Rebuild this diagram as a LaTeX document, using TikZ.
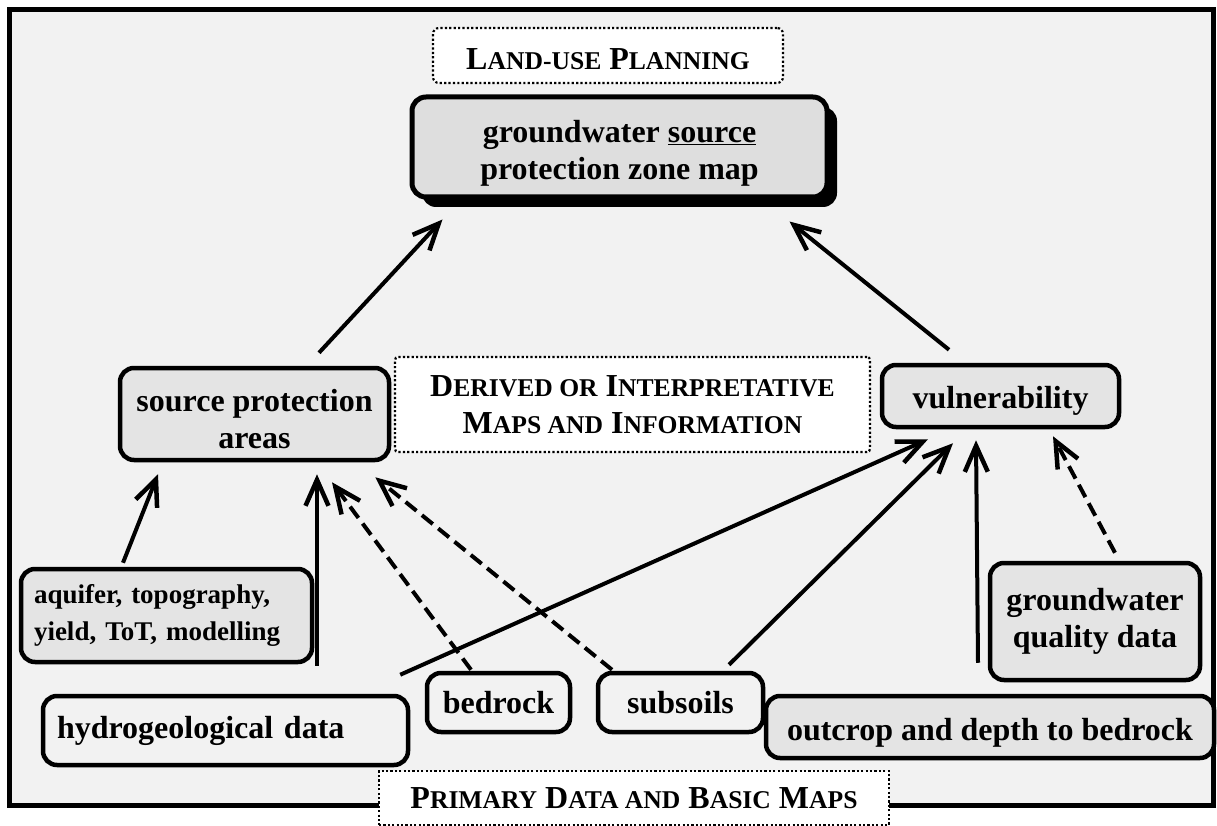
\documentclass[tikz,border=0pt]{standalone}
\usepackage{fontspec}
\setmainfont{Liberation Serif}
\usetikzlibrary{arrows.meta,calc,shadows}
\definecolor{bgc}{RGB}{242,242,242}
\definecolor{boxc}{RGB}{228,228,228}
\definecolor{mainc}{RGB}{222,222,222}
\newcommand\smc[1]{{\fontsize{25.6}{37}\selectfont #1}}
\newcommand\lift[1]{\rule{0pt}{#1pt}}
\begin{document}
\begin{tikzpicture}[x=1pt,y=-1pt,
 every node/.style={font=\bfseries\fontsize{32}{37}\selectfont, inner sep=0pt},
 gbox/.style={draw, line width=4.5pt, rounded corners=14pt, fill=boxc},
 wbox/.style={draw, line width=4.5pt, rounded corners=14pt},
 dbox/.style={draw, line width=2.2pt, dash pattern=on 2.2pt off 2.2pt, fill=white, rounded corners=6pt},
 arr/.style={line width=4pt, -{Straight Barb[length=26pt,width=23pt,line width=4.5pt]}},
 darr/.style={arr, dash pattern=on 14pt off 7pt},
]
\useasboundingbox (0,0) rectangle (1217,826);
\fill[white] (0,0) rectangle (1217,826);
\draw[line width=5pt, fill=bgc] (9.5,9.5) rectangle (1213,805);

\node[dbox, minimum width=350, minimum height=55] (lup) at (608,55.5) {\lift{29}L\smc{AND-USE} P\smc{LANNING}};
\node[gbox, fill=mainc, line width=5pt, minimum width=415, minimum height=100, align=center,
  drop shadow={shadow xshift=10pt, shadow yshift=-10pt, fill=black, opacity=1}] (main) at (619.5,147)
  {\lift{34}groundwater \underline{source}\\protection zone map};
\node[gbox, minimum width=269, minimum height=92, align=center] (spa) at (254.5,414) {\lift{32}source protection\\areas};
\node[dbox, rounded corners=3pt, minimum width=475, minimum height=95, align=center] (der) at (632.5,404.5)
  {D\smc{ERIVED OR} I\smc{NTERPRETATIVE}\\M\smc{APS AND} I\smc{NFORMATION}};
\node[gbox, minimum width=237, minimum height=62] (vul) at (1000.5,396) {\lift{32}vulnerability};
\node[gbox, minimum width=210, minimum height=117, align=center] (gqd) at (1095,621.5) {groundwater\\quality data};
\node[gbox, text width=265, inner xsep=13, minimum height=93, align=left, font=\bfseries\fontsize{27}{37}\selectfont] (aq) at (166.5,615.5)
  {aquifer, topography,\\yield, ToT, modelling};
\node[wbox, text width=337, inner xsep=14, minimum height=69, align=left] (hyd) at (225.5,730.5) {hydrogeological data};
\node[wbox, minimum width=143, minimum height=59] (bed) at (498.5,702.5) {bedrock};
\node[wbox, minimum width=165, minimum height=59] (sub) at (680.5,702.5) {subsoils};
\node[gbox, minimum width=448, minimum height=62] (out) at (990,727) {\lift{34}outcrop and depth to bedrock};
\node[dbox, rounded corners=0pt, minimum width=510, minimum height=54] (pri) at (634,798)
  {P\smc{RIMARY} D\smc{ATA AND} B\smc{ASIC} M\smc{APS}};

\draw[arr] ($(spa.north)+(64.5,-13)$) -- ($(main.south west)+(33,20)$);
\draw[arr] ($(vul.north)+(-51.5,-13)$) -- ($(main.south east)+(-40,22)$);
\draw[arr] ($(aq.north)+(-43.5,-4)$) -- ($(spa.south)+(-96.5,12)$);
\draw[arr] ($(hyd.north)+(91.5,-28)$) -- ($(spa.south)+(62.5,12)$);
\draw[darr] ($(bed.north)+(-27.5,-1)$) -- ($(spa.south)+(77.5,20)$);
\draw[darr] ($(sub.north)+(-68.5,-1)$) -- ($(spa.south east)+(-16,15)$);
\draw[arr] ($(hyd.north east)+(-10,-19)$) -- ($(vul.south)+(-72.5,10)$);
\draw[arr] ($(sub.north)+(48.5,-6)$) -- ($(vul.south)+(-47.5,14)$);
\draw[arr] ($(out.north)+(-12,-31)$) -- ($(vul.south)+(-24.5,11)$);
\draw[darr] ($(gqd.north)+(20,-8)$) -- ($(vul.south)+(52.5,7)$);
\end{tikzpicture}
\end{document}
